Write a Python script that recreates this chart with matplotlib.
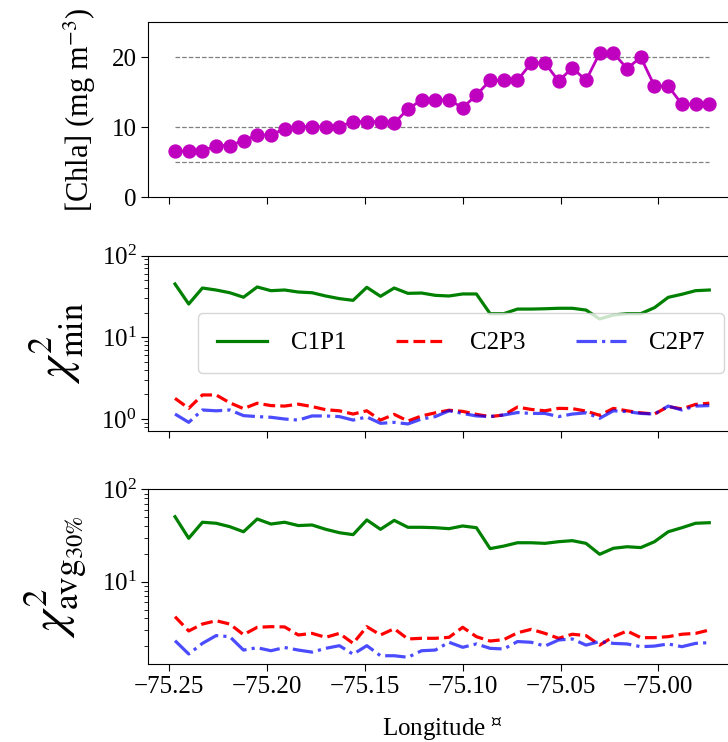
import matplotlib
matplotlib.use("Agg")
import matplotlib.pyplot as plt
from matplotlib.ticker import NullFormatter

plt.rcParams['font.family'] = ['Liberation Serif', 'DejaVu Serif']
plt.rcParams['mathtext.fontset'] = 'stix'

lon = [-75.247, -75.240, -75.233, -75.226, -75.219, -75.212, -75.205, -75.198,
       -75.191, -75.184, -75.177, -75.170, -75.163, -75.156, -75.149, -75.142,
       -75.135, -75.128, -75.121, -75.114, -75.107, -75.100, -75.093, -75.086,
       -75.079, -75.072, -75.065, -75.058, -75.051, -75.044, -75.037, -75.030,
       -75.023, -75.016, -75.009, -75.002, -74.995, -74.988, -74.981, -74.974]

chla = [6.6, 6.6, 6.6, 7.4, 7.4, 8.1, 8.9, 8.9, 9.8, 10.1, 10.1, 10.1, 10.1,
        10.8, 10.8, 10.8, 10.6, 12.6, 13.9, 13.9, 13.9, 12.8, 14.6, 16.7, 16.7,
        16.7, 19.2, 19.2, 16.6, 18.5, 16.7, 20.6, 20.6, 18.4, 20.0, 15.9, 15.9,
        13.3, 13.3, 13.3]
chla_refs = [5, 10, 20]

min_c1p1 = [45, 25.6, 40.2, 38, 35.2, 31, 41.4, 37.3, 38.0, 35.9, 35.2, 32.1,
            29.8, 28.4, 41, 31.8, 40.2, 34.6, 34.9, 32.7, 32.1, 34, 34, 19.5,
            19.5, 22.2, 22.2, 22.4, 22.7, 22.7, 21.6, 16.8, 18.8, 19.5, 19.5,
            23.1, 30.9, 33.7, 37.3, 38]
min_c2p3 = [1.79, 1.35, 1.97, 1.97, 1.58, 1.34, 1.56, 1.46, 1.44, 1.52, 1.42,
            1.30, 1.26, 1.15, 1.26, 0.97, 1.14, 0.945, 1.09, 1.19, 1.28, 1.24,
            1.14, 1.07, 1.12, 1.40, 1.31, 1.26, 1.35, 1.34, 1.25, 1.11, 1.35,
            1.26, 1.19, 1.15, 1.42, 1.33, 1.51, 1.56]
min_c2p7 = [1.15, 0.91, 1.29, 1.26, 1.29, 1.10, 1.07, 1.05, 1.0, 0.97, 1.09,
            1.09, 1.07, 0.97, 1.06, 0.885, 0.91, 0.87, 1.0, 1.07, 1.26, 1.17,
            1.09, 1.07, 1.12, 1.20, 1.17, 1.17, 1.07, 1.15, 1.19, 1.02, 1.26,
            1.23, 1.17, 1.15, 1.44, 1.29, 1.44, 1.46]

avg_c1p1 = [50.5, 29.5, 44, 42.9, 39.4, 34.7, 47.7, 42.1, 44, 40.5, 41.1, 36.9,
            33.9, 32.3, 46.6, 36.9, 46.1, 38.8, 38.8, 38.4, 37.5, 40.1, 38.4,
            22.8, 24.3, 26.4, 26.4, 26, 27.1, 27.8, 26, 19.8, 23, 23.9, 23.4,
            27.1, 34.7, 38.4, 42.9, 43.5]
avg_c2p3 = [4.18, 2.93, 3.48, 3.78, 3.48, 2.67, 3.21, 3.26, 3.24, 2.65, 2.76,
            2.50, 2.76, 2.15, 3.26, 2.65, 3.10, 2.40, 2.44, 2.44, 2.5, 3.21,
            2.54, 2.28, 2.36, 2.80, 3.05, 2.76, 2.44, 2.70, 2.61, 2.06, 2.54,
            2.93, 2.48, 2.48, 2.54, 2.70, 2.76, 3.0]
avg_c2p7 = [2.30, 1.65, 2.15, 2.61, 2.54, 1.82, 1.93, 1.79, 1.94, 1.82, 1.73,
            1.90, 2.03, 1.64, 2.03, 1.58, 1.58, 1.52, 1.79, 1.82, 2.21, 1.95,
            2.12, 1.90, 1.87, 2.25, 2.21, 2.01, 2.34, 2.40, 2.06, 2.25, 2.15,
            2.12, 1.98, 2.01, 2.12, 1.98, 2.15, 2.19]

series_labels = ['C1P1', 'C2P3', 'C2P7']
xticks = [-75.25, -75.20, -75.15, -75.10, -75.05, -75.00]

W, H = 728, 742
fig = plt.figure(figsize=(W / 100, H / 100), dpi=100)

left = 148.3 / W
width = (736.0 - 148.3) / W

def add_ax(top_px, bot_px):
    return fig.add_axes([left, 1 - bot_px / H, width, (bot_px - top_px) / H])

ax1 = add_ax(22.3, 197.3)
ax2 = add_ax(255.7, 430.7)
ax3 = add_ax(489.3, 664.0)

FS = 18

# top panel
ax1.hlines(chla_refs, lon[0], lon[-1], colors='gray', linestyles='--', linewidth=0.9)
ax1.plot(lon, chla, 'o-', color='m', markersize=9.3, linewidth=2)
ax1.set_ylim(0, 25)
ax1.set_yticks([0, 10, 20])
ax1.set_ylabel(r'[Chla] (mg m$^{-3}$)', fontsize=22, labelpad=10)

styles = [dict(color='g', linestyle='-', alpha=1.0),
          dict(color='r', linestyle='--', alpha=1.0),
          dict(color='b', linestyle='-.', alpha=0.7)]

for ax, data in [(ax2, [min_c1p1, min_c2p3, min_c2p7]),
                 (ax3, [avg_c1p1, avg_c2p3, avg_c2p7])]:
    for d, st, lab in zip(data, styles, series_labels):
        ax.plot(lon, d, linewidth=2.3, label=lab, **st)
    ax.set_yscale('log')
    ax.yaxis.set_minor_formatter(NullFormatter())

ax2.set_ylim(0.719, 100)
ax3.set_ylim(1.286, 100)
ax2.set_ylabel(r'$\chi^2_{\rm min}$', fontsize=35, labelpad=11)
ax3.set_ylabel(r'$\chi^2_{\rm avg_{30\%}}$', fontsize=36, labelpad=9)

ax2.legend(loc='center right', ncol=3, fontsize=FS, handletextpad=0.95,
           columnspacing=2.0, borderpad=0.75)

xmin = lon[0] - 0.05 * (lon[-1] - lon[0])
xmax = lon[-1] + 0.05 * (lon[-1] - lon[0])
for ax in (ax1, ax2, ax3):
    ax.set_xlim(xmin, xmax)
    ax.set_xticks(xticks)
    ax.tick_params(axis='both', which='major', labelsize=FS, length=5)
    ax.tick_params(axis='both', which='minor', length=3)
for ax in (ax1, ax2):
    ax.tick_params(axis='x', labelbottom=False)
ax3.ticklabel_format(axis='x', useOffset=False)

ax3.set_xlabel(r'Longitude $^{¤}$', fontsize=FS, labelpad=13)

fig.savefig('out.png', dpi=100)
